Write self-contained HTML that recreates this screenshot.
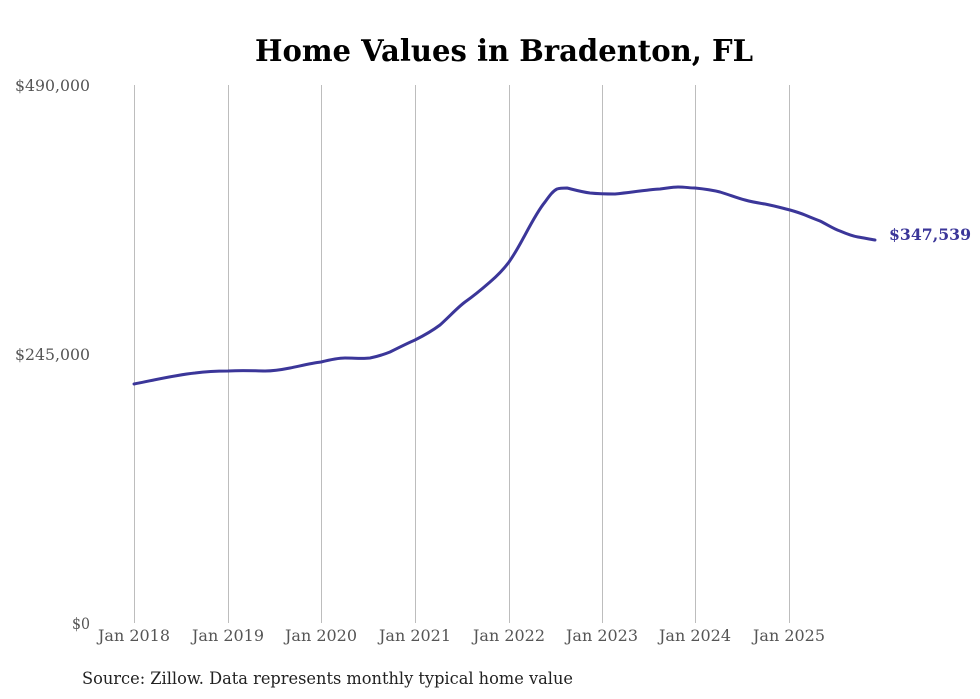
<!DOCTYPE html>
<html><head><style>html,body{margin:0;padding:0;background:#fff;}svg{display:block}</style></head><body>
<svg width="980" height="699" xmlns="http://www.w3.org/2000/svg" font-family="'DejaVu Serif','Liberation Serif',serif">
<text x="255" y="61" font-size="30" font-weight="bold" fill="#000" textLength="498" lengthAdjust="spacingAndGlyphs">Home Values in Bradenton, FL</text>
<g stroke="#bdbdbd" stroke-width="1">
<line x1="134.5" y1="85" x2="134.5" y2="623"/><line x1="228.5" y1="85" x2="228.5" y2="623"/>
<line x1="321.5" y1="85" x2="321.5" y2="623"/><line x1="415.5" y1="85" x2="415.5" y2="623"/>
<line x1="509.5" y1="85" x2="509.5" y2="623"/><line x1="602.5" y1="85" x2="602.5" y2="623"/>
<line x1="695.5" y1="85" x2="695.5" y2="623"/><line x1="789.5" y1="85" x2="789.5" y2="623"/>
</g>
<g font-size="16" fill="#555">
<text x="15" y="91" textLength="75" lengthAdjust="spacingAndGlyphs">$490,000</text>
<text x="15" y="360" textLength="75" lengthAdjust="spacingAndGlyphs">$245,000</text>
<text x="72" y="629" textLength="18" lengthAdjust="spacingAndGlyphs">$0</text>
<g>
<text x="98" y="641" textLength="72" lengthAdjust="spacingAndGlyphs">Jan 2018</text>
<text x="192" y="641" textLength="72" lengthAdjust="spacingAndGlyphs">Jan 2019</text>
<text x="285" y="641" textLength="72" lengthAdjust="spacingAndGlyphs">Jan 2020</text>
<text x="379" y="641" textLength="72" lengthAdjust="spacingAndGlyphs">Jan 2021</text>
<text x="473" y="641" textLength="72" lengthAdjust="spacingAndGlyphs">Jan 2022</text>
<text x="566" y="641" textLength="72" lengthAdjust="spacingAndGlyphs">Jan 2023</text>
<text x="659" y="641" textLength="72" lengthAdjust="spacingAndGlyphs">Jan 2024</text>
<text x="753" y="641" textLength="72" lengthAdjust="spacingAndGlyphs">Jan 2025</text>
</g>
</g>
<path fill="none" stroke="#3b3699" stroke-width="3" stroke-linejoin="round" stroke-linecap="round"
d="M134,384 C150,381 175,375 195,373 C210,371 220,371 228,371 C245,370 255,371 265,371 C275,371 285,369 290,368 C300,366 312,363 321,362 C333,359 340,358 345,358 C355,358 362,359 370,358 C380,356 385,354 390,352 C400,347 408,343 415,340 C425,335 432,331 440,325 C450,316 457,308 465,302 C475,295 482,289 490,282 C497,276 503,270 509,262 C516,252 520,244 525,235 C533,220 540,208 545,202 C550,195 553,191 557,189 C560,188 563,188 567,188 C575,190 582,192 590,193 C600,194 607,194 615,194 C625,193 632,192 640,191 C650,190 655,189 660,189 C668,188 673,187 678,187 C685,187 690,188 695,188 C705,189 712,190 720,192 C730,195 737,198 745,200 C752,202 758,203 765,204 C775,206 782,208 790,210 C797,212 800,213 805,215 C812,218 815,219 820,221 C828,225 834,229 840,231 C847,234 852,236 858,237 C864,238 869,239 875,240"/>
<text x="889" y="240" font-size="16" font-weight="bold" fill="#3b3699" textLength="82" lengthAdjust="spacingAndGlyphs">$347,539</text>
<text x="82" y="684" font-size="17" fill="#222" textLength="491" lengthAdjust="spacingAndGlyphs">Source: Zillow. Data represents monthly typical home value</text>
</svg>
</body></html>
